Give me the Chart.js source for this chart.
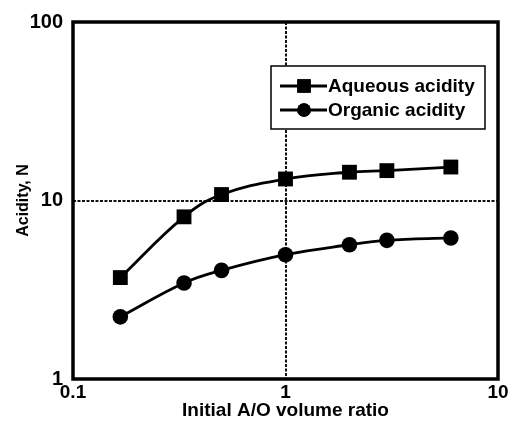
<!DOCTYPE html>
<html>
<head>
<meta charset="utf-8">
<script src="https://cdn.jsdelivr.net/npm/chart.js@4.4.1/dist/chart.umd.min.js"></script>
<style>
    html, body { margin: 0; padding: 0; background: #fff; }
    #wrap { width: 511px; height: 426px; }
</style>
</head>
<body>
<div id="wrap"><canvas id="acidityChart" width="511" height="426"></canvas></div>
<script>
// initial A/O volume ratios
const ratios = [0.167, 0.333, 0.5, 1, 2, 3, 6];
// acidity (N) in each phase
const aqueousAcidity = [3.7, 8.1, 10.8, 13.2, 14.4, 14.7, 15.4];
const organicAcidity = [2.23, 3.45, 4.06, 4.97, 5.65, 5.98, 6.17];
// labelled decades
const xTickLabels = [0.1, 1, 10];
const yTickLabels = [1, 10, 100];

const fontFamily = '"Liberation Sans", Arial, Helvetica, sans-serif';

function toPoints(values) {
    return ratios.map((r, i) => ({ x: r, y: values[i] }));
}

// thick frame around the plot area
const frame = {
    id: 'frame',
    afterDraw(chart) {
        const a = chart.chartArea;
        const ctx = chart.ctx;
        ctx.save();
        ctx.strokeStyle = '#000';
        ctx.lineWidth = 3.5;
        ctx.strokeRect(a.left, a.top, a.right - a.left, a.bottom - a.top);
        ctx.restore();
    }
};

// boxed legend sitting inside the plot
const boxLegend = {
    id: 'boxLegend',
    afterDraw(chart) {
        const ctx = chart.ctx;
        const box = { x: 271, y: 66, w: 214, h: 63 };
        ctx.save();
        ctx.fillStyle = '#fff';
        ctx.fillRect(box.x, box.y, box.w, box.h);
        ctx.strokeStyle = '#000';
        ctx.lineWidth = 1.5;
        ctx.strokeRect(box.x, box.y, box.w, box.h);

        ctx.font = 'bold 19px ' + fontFamily;
        ctx.textBaseline = 'middle';
        ctx.fillStyle = '#000';
        chart.data.datasets.forEach((ds, i) => {
            const cy = box.y + 20 + i * 24;
            ctx.lineWidth = 2.8;
            ctx.beginPath();
            ctx.moveTo(box.x + 9, cy);
            ctx.lineTo(box.x + 56, cy);
            ctx.stroke();
            Chart.helpers.drawPoint(ctx, {
                pointStyle: ds.pointStyle,
                radius: ds.pointStyle === 'rect' ? 9.5 : 6.8,
                borderWidth: 0
            }, box.x + 33, cy);
            ctx.fill();
            ctx.fillText(ds.label, box.x + 57, cy + 1);
        });
        ctx.restore();
    }
};

const ctx = document.getElementById('acidityChart').getContext('2d');
new Chart(ctx, {
    type: 'line',
    data: {
        datasets: [
            {
                label: 'Aqueous acidity',
                data: toPoints(aqueousAcidity),
                borderColor: '#000',
                backgroundColor: '#000',
                borderWidth: 2.8,
                pointStyle: 'rect',
                pointRadius: 10.5,
                pointBorderWidth: 0,
                tension: 0.4
            },
            {
                label: 'Organic acidity',
                data: toPoints(organicAcidity),
                borderColor: '#000',
                backgroundColor: '#000',
                borderWidth: 2.8,
                pointStyle: 'circle',
                pointRadius: 7.8,
                pointBorderWidth: 0,
                tension: 0.4
            }
        ]
    },
    options: {
        responsive: false,
        animation: false,
        layout: { padding: { top: 22, right: 13, left: 0, bottom: 0 } },
        plugins: {
            legend: { display: false },
            tooltip: { enabled: false }
        },
        scales: {
            x: {
                type: 'logarithmic',
                min: 0.1,
                max: 10,
                afterFit: scale => { scale.height = 47; },
                border: { display: false, dash: [3, 1.5] },
                grid: {
                    drawTicks: false,
                    lineWidth: 2,
                    color: c => (c.tick && c.tick.value === 1) ? '#111' : 'transparent'
                },
                ticks: {
                    autoSkip: false,
                    maxRotation: 0,
                    padding: 2,
                    color: '#000',
                    font: { family: fontFamily, size: 19, weight: 'bold' },
                    callback: v => xTickLabels.includes(v) ? String(v) : ''
                },
                title: {
                    display: true,
                    text: 'Initial A/O volume ratio',
                    color: '#000',
                    padding: { top: 0, bottom: 4 },
                    font: { family: fontFamily, size: 19, weight: 'bold' }
                }
            },
            y: {
                type: 'logarithmic',
                min: 1,
                max: 100,
                afterFit: scale => { scale.width = 73; },
                border: { display: false, dash: [3, 1.5] },
                grid: {
                    drawTicks: false,
                    lineWidth: 2,
                    color: c => (c.tick && c.tick.value === 10) ? '#111' : 'transparent'
                },
                ticks: {
                    autoSkip: false,
                    padding: 10,
                    color: '#000',
                    font: { family: fontFamily, size: 20, weight: 'bold' },
                    callback: v => yTickLabels.includes(v) ? String(v) : ''
                },
                title: {
                    display: true,
                    text: 'Acidity, N',
                    color: '#000',
                    padding: { top: 14, bottom: 0 },
                    font: { family: fontFamily, size: 16, weight: 'bold' }
                }
            }
        }
    },
    plugins: [frame, boxLegend]
});
</script>
</body>
</html>
